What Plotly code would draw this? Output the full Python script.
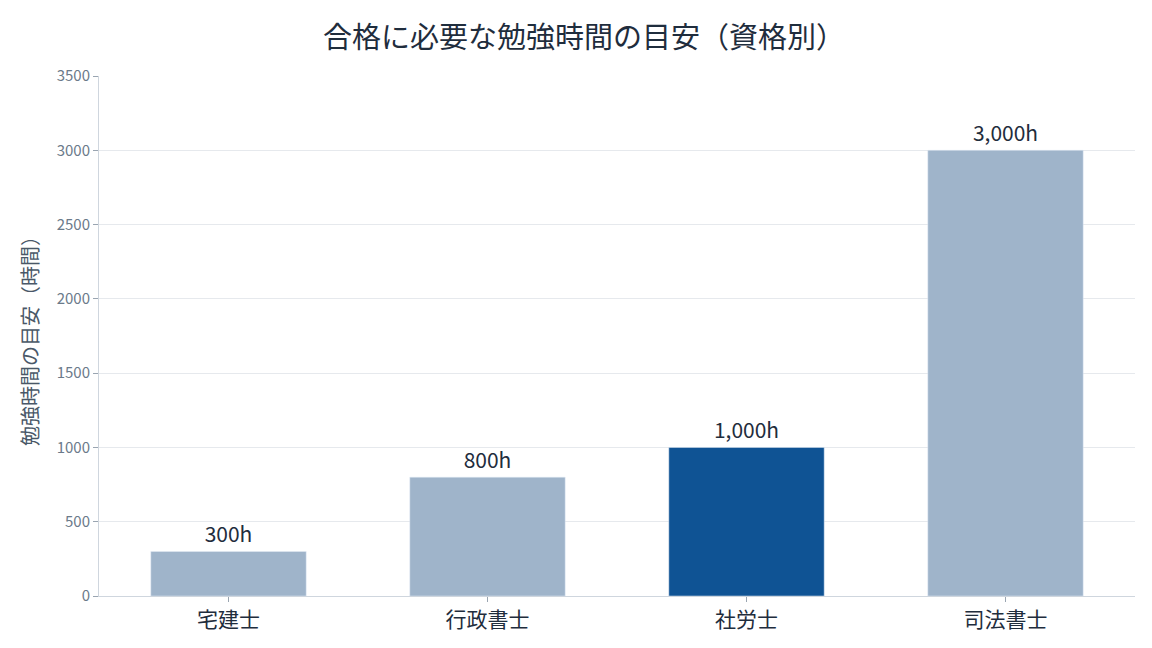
import plotly.graph_objects as go

# 資格ごとの勉強時間の目安
qualifications = ["宅建士", "行政書士", "社労士", "司法書士"]
hours = [300, 800, 1000, 3000]
labels = ["300h", "800h", "1,000h", "3,000h"]
highlight = "社労士"

colors = ["#0f5394" if q == highlight else "#9fb4ca" for q in qualifications]

fig = go.Figure()
fig.add_trace(go.Bar(
    x=qualifications, y=hours, text=labels, textposition="outside",
    marker_color=colors, width=0.6, cliponaxis=False,
    textfont=dict(size=21, color="#1f2d3d"),
))

fig.update_layout(
    title=dict(text="合格に必要な勉強時間の目安（資格別）", x=0.5, xanchor="center", y=0.97,
               font=dict(size=29, color="#1f2d3d")),
    font=dict(family="Noto Sans CJK JP", color="#1f2d3d"),
    width=1152, height=648,
    margin=dict(l=91, r=25, t=68, b=60),
    plot_bgcolor="white", paper_bgcolor="white",
    showlegend=False,
    uniformtext=dict(minsize=8),
)
fig.update_xaxes(showline=True, linecolor="#cfd6de", ticks="outside", tickcolor="#9aa5b1",
                 ticklen=5, tickfont=dict(size=21, color="#1f2d3d"))
fig.update_yaxes(range=[0, 3500], dtick=500, showgrid=True, gridcolor="#e6e9ed",
                 showline=True, linecolor="#cfd6de", ticks="outside", tickcolor="#9aa5b1",
                 ticklen=5, tickfont=dict(size=15, color="#6b7a8a"),
                 title=dict(text="勉強時間の目安（時間）", font=dict(size=20, color="#4a5868"), standoff=12),
                 zeroline=False)

fig.write_html("out.html")
